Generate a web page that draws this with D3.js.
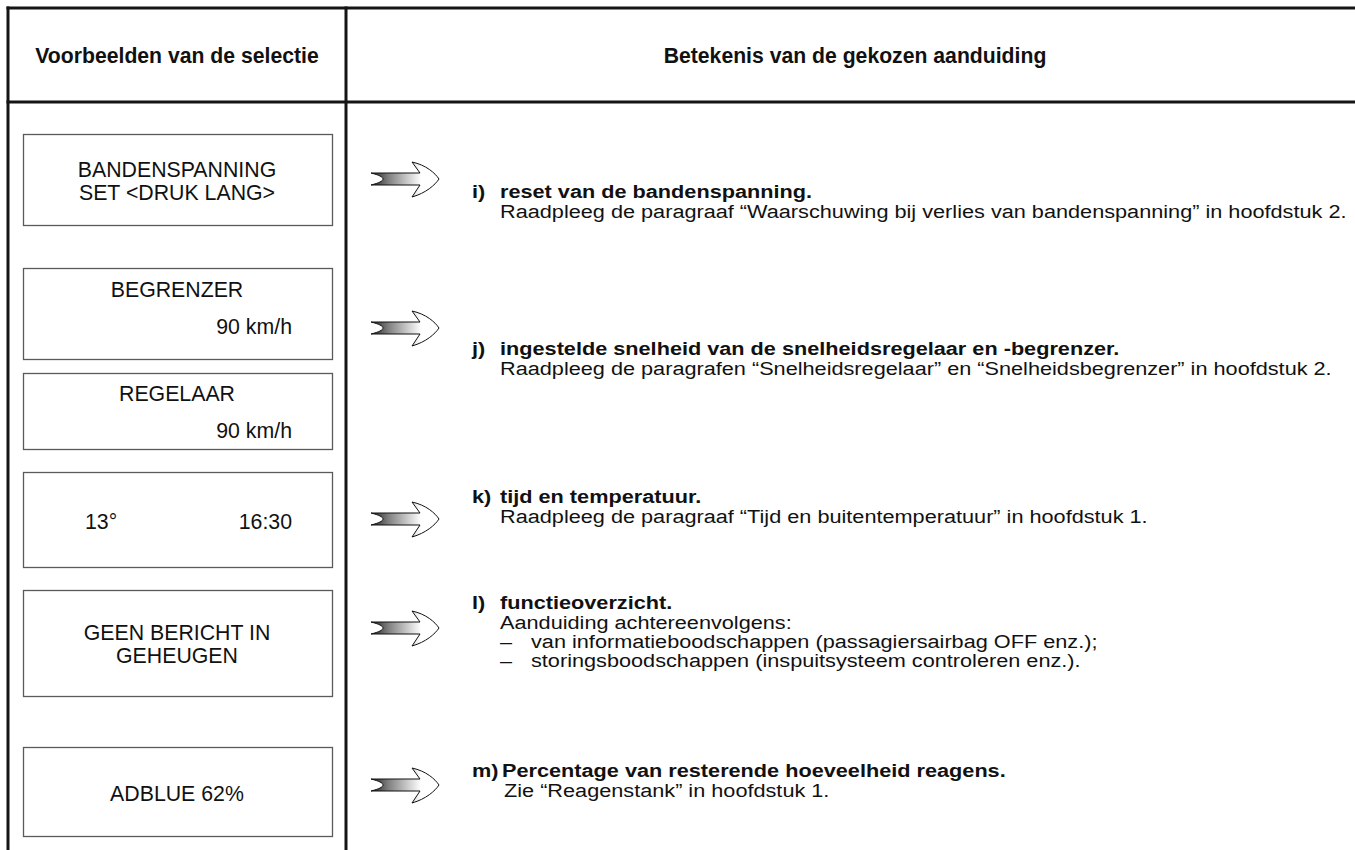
<!DOCTYPE html>
<html>
<head>
<meta charset="utf-8">
<script src="https://cdn.jsdelivr.net/npm/d3@7"></script>
<style>
  html, body { margin: 0; padding: 0; background: #fff; }
  svg { display: block; }
  text { font-family: "Liberation Sans", Arial, Helvetica, sans-serif; fill: #111; }
</style>
</head>
<body>
<svg id="chart" width="1355" height="850"></svg>
<script>
// ---------- data ----------
const headers = ["Voorbeelden van de selectie", "Betekenis van de gekozen aanduiding"];

// display examples (left column)
const displayCentered = [
  ["BANDENSPANNING", "SET <DRUK LANG>"],
  ["BEGRENZER"],
  ["REGELAAR"],
  [],
  ["GEEN BERICHT IN", "GEHEUGEN"],
  ["ADBLUE 62%"]
];
const displayRight = ["", "90 km/h", "90 km/h", "16:30", "", ""];
const displayLeft  = ["", "", "", "13°", "", ""];

// meanings (right column)
const itemLetters = ["i)", "j)", "k)", "l)", "m)"];
const itemTitles = [
  "reset van de bandenspanning.",
  "ingestelde snelheid van de snelheidsregelaar en -begrenzer.",
  "tijd en temperatuur.",
  "functieoverzicht.",
  "Percentage van resterende hoeveelheid reagens."
];
const itemBody = [
  ["Raadpleeg de paragraaf “Waarschuwing bij verlies van bandenspanning” in hoofdstuk 2."],
  ["Raadpleeg de paragrafen “Snelheidsregelaar” en “Snelheidsbegrenzer” in hoofdstuk 2."],
  ["Raadpleeg de paragraaf “Tijd en buitentemperatuur” in hoofdstuk 1."],
  ["Aanduiding achtereenvolgens:"],
  ["Zie “Reagenstank” in hoofdstuk 1."]
];
const itemBullets = [
  [], [], [],
  ["van informatieboodschappen (passagiersairbag OFF enz.);",
   "storingsboodschappen (inspuitsysteem controleren enz.)."],
  []
];

// ---------- layout (positions, not data) ----------
const W = 1355, H = 850;
const boxX0 = 23, boxX1 = 332;
const boxes = [[134, 225], [268, 359], [373, 449], [472, 567], [590, 696], [747, 836]];
const centeredY = [[169, 192], [289], [393], [], [632, 655], [793]];
const sideY = [0, 326, 430, 521, 0, 0];
const arrowY = [179, 328, 519, 628, 785];
const itemY = [192, 349, 497, 603, 771];
const titleX = [500, 500, 500, 500, 502];
const bodyX = [500, 500, 500, 500, 504];
const lineGap = 19.3;

const svg = d3.select("#chart");
const defs = svg.append("defs");
const grad = defs.append("linearGradient").attr("id", "shaft")
  .attr("gradientUnits", "userSpaceOnUse").attr("x1", 0).attr("x2", 50).attr("y1", 0).attr("y2", 0);
grad.append("stop").attr("offset", 0).attr("stop-color", "#222");
grad.append("stop").attr("offset", 0.35).attr("stop-color", "#808080");
grad.append("stop").attr("offset", 1).attr("stop-color", "#ffffff");

// table lines
const lineColor = "#151515";
const tbl = svg.append("g").attr("stroke", lineColor).attr("stroke-width", 3);
const hLines = [8, 102];
const vLines = [8, 346];
tbl.selectAll("line.h").data(hLines).join("line").attr("class", "h")
  .attr("x1", 6.5).attr("x2", W).attr("y1", d => d).attr("y2", d => d);
tbl.selectAll("line.v").data(vLines).join("line").attr("class", "v")
  .attr("x1", d => d).attr("x2", d => d).attr("y1", 6.5).attr("y2", H);

// headers
const headerX = [177, 855];
svg.selectAll("text.hdr").data(headers).join("text").attr("class", "hdr")
  .attr("x", (d, i) => headerX[i]).attr("y", 62.5)
  .attr("text-anchor", "middle")
  .style("font-size", "21.2px").style("font-weight", "bold")
  .text(d => d);

// display boxes
const bx = svg.append("g");
bx.selectAll("rect").data(boxes).join("rect")
  .attr("x", boxX0 + 0.5).attr("y", d => d[0] + 0.5)
  .attr("width", boxX1 - boxX0).attr("height", d => d[1] - d[0])
  .attr("fill", "none").attr("stroke", "#5a5a5a").attr("stroke-width", 1.3);

const boxFont = "21.3px";
displayCentered.forEach((lines, i) => {
  lines.forEach((t, j) => {
    bx.append("text").attr("x", 177).attr("y", centeredY[i][j] + 7.5)
      .attr("text-anchor", "middle").style("font-size", boxFont).text(t);
  });
  if (displayRight[i]) {
    bx.append("text").attr("x", 292).attr("y", sideY[i] + 7.5)
      .attr("text-anchor", "end").style("font-size", boxFont).text(displayRight[i]);
  }
  if (displayLeft[i]) {
    bx.append("text").attr("x", 85).attr("y", sideY[i] + 7.5)
      .attr("text-anchor", "start").style("font-size", boxFont).text(displayLeft[i]);
  }
});

// arrows
const arrowPath = "M0,-6 L49,-6 L41,-17 C55,-14 64,-6 68,0 C64,6 55,14 41,18 L49,6 L0,6 C8,4 12,2 12,0 C12,-2 8,-4 0,-6 Z";
svg.selectAll("path.arrow").data(arrowY).join("path").attr("class", "arrow")
  .attr("transform", d => `translate(371,${d})`)
  .attr("d", arrowPath)
  .attr("fill", "url(#shaft)").attr("stroke", "#111").attr("stroke-width", 1);

// meanings text
const sx = 1.205;
const bodyFont = "18px";
function put(g, x, y, txt, bold) {
  g.append("text")
    .attr("transform", `translate(${x},${y + 6.3}) scale(${sx},1)`)
    .style("font-size", bodyFont)
    .style("font-weight", bold ? "bold" : "normal")
    .text(txt);
}
const mg = svg.append("g");
itemTitles.forEach((t, i) => {
  const y0 = itemY[i];
  put(mg, 472, y0, itemLetters[i], true);
  put(mg, titleX[i], y0, t, true);
  let y = y0 + lineGap;
  itemBody[i].forEach(b => { put(mg, bodyX[i], y, b, false); y += lineGap; });
  itemBullets[i].forEach(b => {
    put(mg, 500, y, "–", false);
    put(mg, 531, y, b, false);
    y += lineGap;
  });
});
</script>
</body>
</html>
